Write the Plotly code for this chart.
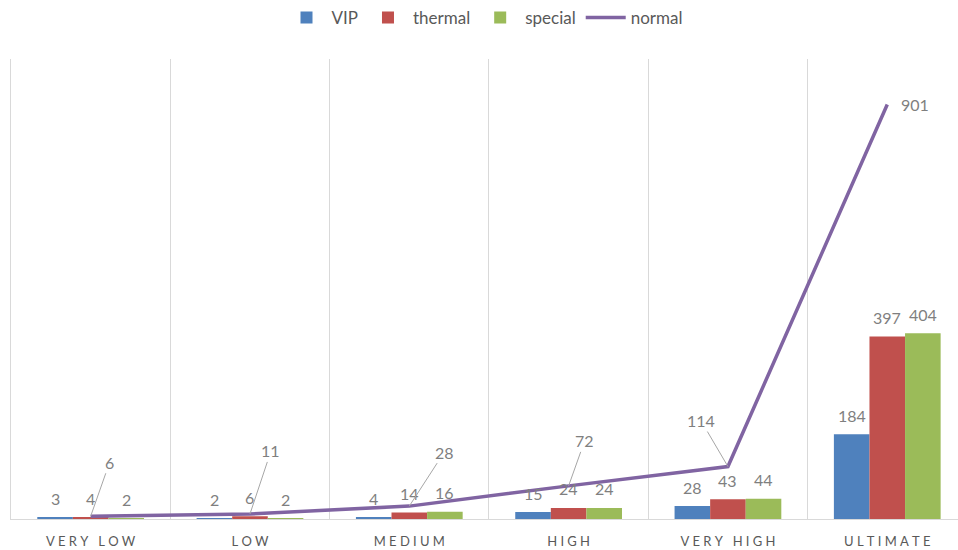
import plotly.graph_objects as go

# Categories and series
categories = ["VERY LOW", "LOW", "MEDIUM", "HIGH", "VERY HIGH", "ULTIMATE"]
vip = [3, 2, 4, 15, 28, 184]
thermal = [4, 6, 14, 24, 43, 397]
special = [2, 2, 16, 24, 44, 404]
normal = [6, 11, 28, 72, 114, 901]

# Letter-spaced category labels
SP = "\u2005"
tick_text = [SP.join(list(c)) for c in categories]

LABEL_GRAY = "#7f7f7f"
TEXT_GRAY = "#595959"
GRID = "#d9d9d9"
FONT = "Lato, 'Open Sans', sans-serif"

fig = go.Figure()
bar_series = [("VIP", vip, "#4f81bd"), ("thermal", thermal, "#c0504d"), ("special", special, "#9bbb59")]
for name, vals, col in bar_series:
    fig.add_trace(go.Bar(name=name, x=categories, y=vals, marker=dict(color=col, line=dict(width=0))))

fig.add_trace(go.Scatter(name="normal", x=categories, y=normal, mode="lines",
                         line=dict(color="#8064a2", width=3.5)))

# Bar value labels
bar_w = 159.4 * 0.67 / 3
annotations = []
for i, (name, vals, col) in enumerate(bar_series):
    for c, v in zip(categories, vals):
        annotations.append(dict(x=c, y=v, text=str(v), showarrow=False, xref="x", yref="y",
                                xshift=(i - 1) * bar_w, yshift=19,
                                font=dict(size=16, color=LABEL_GRAY, family=FONT)))

# Line value labels with leader lines (text offsets in px)
line_offsets = [(19, -54), (21, -63), (35, -54), (16, -45), (-27, -46), (28, 0)]
for c, v, (ax, ay) in zip(categories, normal, line_offsets):
    if ay == 0:
        annotations.append(dict(x=c, y=v, text=str(v), showarrow=False, xshift=ax,
                                font=dict(size=16, color=LABEL_GRAY, family=FONT)))
    else:
        annotations.append(dict(x=c, y=v, text=str(v), showarrow=True, arrowhead=0,
                                arrowwidth=1, arrowcolor="#a6a6a6", ax=ax, ay=ay,
                                standoff=0, startstandoff=0,
                                font=dict(size=16, color=LABEL_GRAY, family=FONT)))

fig.update_layout(
    width=958, height=550,
    margin=dict(l=11, r=0, t=57, b=31),
    paper_bgcolor="white", plot_bgcolor="white",
    barmode="group", bargap=0.33, bargroupgap=0,
    font=dict(family=FONT, color=TEXT_GRAY),
    showlegend=True,
    legend=dict(orientation="h", x=0.5, xanchor="center", y=1.089, yanchor="middle",
                font=dict(size=17, color=TEXT_GRAY, family=FONT), itemwidth=40,
                traceorder="normal"),
    annotations=annotations,
)
fig.update_xaxes(
    type="category", range=[-0.5, 5.444],
    tickmode="array", tickvals=categories, ticktext=tick_text,
    tickson="boundaries", ticks="", showgrid=True, gridcolor=GRID, gridwidth=1,
    showline=True, linecolor=GRID, linewidth=1,
    tickfont=dict(size=13, color=TEXT_GRAY, family=FONT), ticklabelstandoff=10,
)
fig.update_yaxes(range=[0, 1000], showgrid=False, zeroline=False, showticklabels=False,
                 showline=True, linecolor=GRID, linewidth=1)

fig.write_html("out.html")
